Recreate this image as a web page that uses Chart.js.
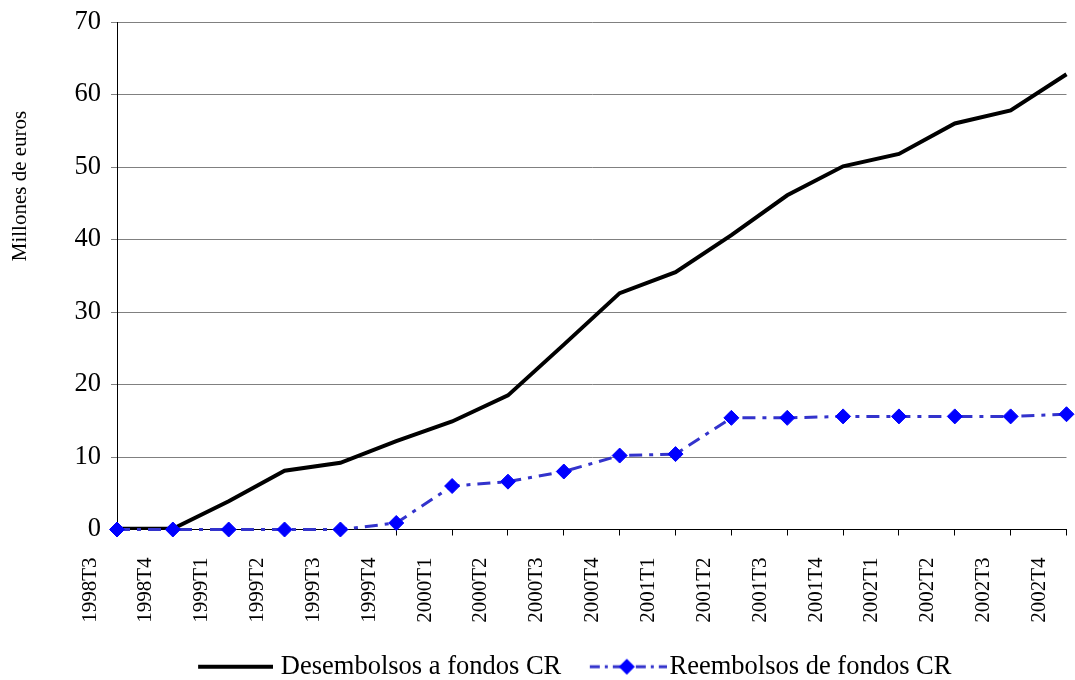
<!DOCTYPE html>
<html>
<head>
<meta charset="utf-8">
<title>Desembolsos y reembolsos de fondos CR</title>
<script src="https://cdn.jsdelivr.net/npm/chart.js@4.4.1/dist/chart.umd.min.js"></script>
<style>
  html, body { margin: 0; padding: 0; background: #fff; }
  #marco { width: 1075px; height: 680px; position: relative; }
</style>
</head>
<body>
<div id="marco"><canvas id="grafico"></canvas></div>
<script>
// Desembolsos a fondos CR vs reembolsos, por trimestre (millones de euros)

// ================= DATOS =================
const trimestres = ["1998T3", "1998T4", "1999T1", "1999T2", "1999T3", "1999T4",
  "2000T1", "2000T2", "2000T3", "2000T4", "2001T1", "2001T2", "2001T3", "2001T4",
  "2002T1", "2002T2", "2002T3", "2002T4"];
const desembolsos = [0.1, 0.1, 3.9, 8.1, 9.2, 12.2, 14.9, 18.5, 25.5, 32.6, 35.5, 40.6,
  46.1, 50.1, 51.8, 56.0, 57.8, 62.8];
const reembolsos = [0, 0, 0, 0, 0, 0.9, 6.0, 6.6, 8.0, 10.2, 10.4, 15.4,
  15.4, 15.6, 15.6, 15.6, 15.6, 15.9];
const ticksEjeY = [0, 10, 20, 30, 40, 50, 60, 70];
const nombresSeries = ["Desembolsos a fondos CR", "Reembolsos de fondos CR"];
const tituloEjeY = "Millones de euros";

// ================= ESTILO =================
const FUENTE = "'Liberation Serif', 'Times New Roman', serif";
const AZUL_LINEA = "#3333cc";
const AZUL_MARCA = "#0000ff";
const LEYENDA_DX = 30;
const LEYENDA_DY = 10;

// muestras de la leyenda (linea + marcador) dibujadas en un canvas aparte
function muestraNegra() {
  const c = document.createElement("canvas");
  c.width = 96; c.height = 20;
  const g = c.getContext("2d");
  g.strokeStyle = "#000"; g.lineWidth = 4;
  g.beginPath(); g.moveTo(21, 10); g.lineTo(96, 10); g.stroke();
  return c;
}

function muestraAzul() {
  const c = document.createElement("canvas");
  c.width = 106; c.height = 20;
  const g = c.getContext("2d");
  g.strokeStyle = AZUL_LINEA; g.lineWidth = 3;
  g.setLineDash([10, 5, 3, 5]);
  g.beginPath(); g.moveTo(29, 10); g.lineTo(106, 10); g.stroke();
  g.setLineDash([]);
  g.fillStyle = AZUL_MARCA;
  g.beginPath();
  g.moveTo(66, 2); g.lineTo(74, 10); g.lineTo(66, 18); g.lineTo(58, 10);
  g.closePath(); g.fill();
  return c;
}

const imgNegra = muestraNegra();
const imgAzul = muestraAzul();

// coloca la leyenda como en el original y pone el titulo del eje Y
const ajustes = {
  id: "ajustes",
  afterLayout(chart) {
    const l = chart.legend;
    if (l) {
      l.left += LEYENDA_DX; l.right += LEYENDA_DX;
      l.top += LEYENDA_DY; l.bottom += LEYENDA_DY;
    }
  },
  afterDraw(chart) {
    const c = chart.ctx;
    c.save();
    c.translate(20, 186);
    c.rotate(-Math.PI / 2);
    c.fillStyle = "#000";
    c.font = "21px " + FUENTE;
    c.textAlign = "center";
    c.textBaseline = "middle";
    c.fillText(tituloEjeY, 0, 0);
    c.restore();
  }
};

// ================= GRAFICO =================
const ctx = document.getElementById("grafico").getContext("2d");
new Chart(ctx, {
  type: "line",
  data: {
    labels: trimestres,
    datasets: [
      {
        label: nombresSeries[0],
        data: desembolsos,
        borderColor: "#000",
        borderWidth: 4,
        pointRadius: 0,
        tension: 0,
        order: 2
      },
      {
        label: nombresSeries[1],
        data: reembolsos,
        borderColor: AZUL_LINEA,
        borderWidth: 3,
        borderDash: [13, 7, 4, 7],
        pointStyle: "rectRot",
        pointRadius: 7.5,
        pointBackgroundColor: AZUL_MARCA,
        pointBorderColor: AZUL_MARCA,
        pointBorderWidth: 1,
        tension: 0,
        clip: false,
        order: 1
      }
    ]
  },
  options: {
    responsive: true,
    maintainAspectRatio: false,
    animation: false,
    layout: { padding: { top: 22, right: 1, bottom: 0, left: 0 } },
    plugins: {
      tooltip: { enabled: false },
      legend: {
        position: "bottom",
        labels: {
          usePointStyle: true,
          pointStyleWidth: 85,
          padding: 10,
          color: "#000",
          font: { family: FUENTE, size: 26.5 },
          generateLabels: () => [
            { text: nombresSeries[0], pointStyle: imgNegra, datasetIndex: 0, fontColor: "#000", lineWidth: 0, strokeStyle: "rgba(0,0,0,0)", fillStyle: "rgba(0,0,0,0)" },
            { text: nombresSeries[1], pointStyle: imgAzul, datasetIndex: 1, fontColor: "#000", lineWidth: 0, strokeStyle: "rgba(0,0,0,0)", fillStyle: "rgba(0,0,0,0)" }
          ]
        }
      }
    },
    scales: {
      x: {
        type: "category",
        offset: false,
        afterFit: (eje) => { eje.height = 104; eje.paddingLeft = 0; eje.paddingRight = 0; },
        grid: { display: true, drawOnChartArea: false, drawTicks: true, tickLength: 6, color: "#000" },
        border: { display: true, color: "#000", width: 1 },
        ticks: {
          autoSkip: false,
          minRotation: 90,
          maxRotation: 90,
          labelOffset: -27,
          padding: 22,
          color: "#000",
          font: { family: FUENTE, size: 21 }
        }
      },
      y: {
        min: 0,
        max: 70,
        afterBuildTicks: (eje) => { eje.ticks = ticksEjeY.map(v => ({ value: v })); },
        afterFit: (eje) => { eje.width = 117; eje.paddingTop = 0; eje.paddingBottom = 0; },
        grid: { color: "#808080", lineWidth: 1, tickLength: 6 },
        border: { display: true, color: "#000", width: 1 },
        ticks: {
          padding: 10,
          color: "#000",
          font: { family: FUENTE, size: 26.5 }
        }
      }
    }
  },
  plugins: [ajustes]
});
</script>
</body>
</html>
